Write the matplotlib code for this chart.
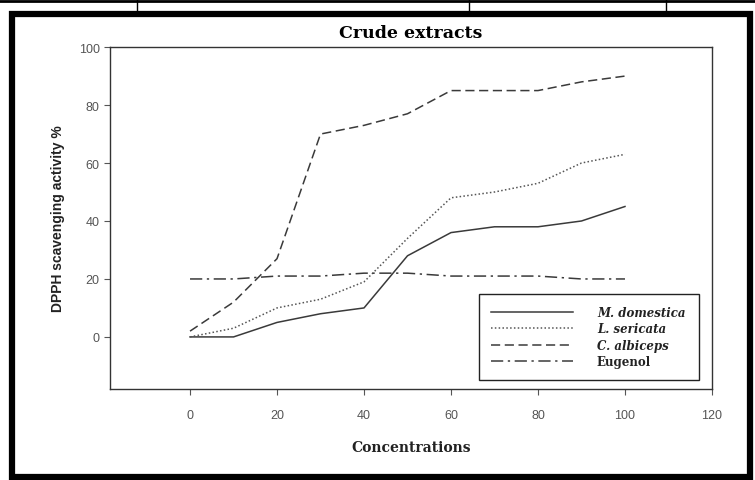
import matplotlib
matplotlib.use("Agg")
import matplotlib.pyplot as plt
from matplotlib.patches import Rectangle
from matplotlib.lines import Line2D

concentrations = [0, 10, 20, 30, 40, 50, 60, 70, 80, 90, 100]
m_domestica = [0, 0, 5, 8, 10, 28, 36, 38, 38, 40, 45]
l_sericata = [0, 3, 10, 13, 19, 34, 48, 50, 53, 60, 63]
c_albiceps = [2, 12, 27, 70, 73, 77, 85, 85, 85, 88, 90]
eugenol = [20, 20, 21, 21, 22, 22, 21, 21, 21, 20, 20]

series_labels = ["M. domestica", "L. sericata", "C. albiceps", "Eugenol"]
x_ticks = [0, 20, 40, 60, 80, 100, 120]
y_ticks = [0, 20, 40, 60, 80, 100]

line_color = "#3a3a3a"
serif = ["DejaVu Serif"]
sans = ["Liberation Sans", "DejaVu Sans"]
styles = [
    ("-", line_color),
    ((0, (1, 1.5)), "#555555"),
    ((0, (6, 3)), line_color),
    ((0, (8, 3, 1.5, 3)), line_color),
]
series = [m_domestica, l_sericata, c_albiceps, eugenol]

fig = plt.figure(figsize=(7.55, 4.81), dpi=100)
ax = fig.add_axes([0.1457, 0.189, 0.7973, 0.711])

handles = []
for values, (ls, col) in zip(series, styles):
    ax.plot(concentrations, values, color=col, lw=1.1, ls=ls)
    handles.append(Line2D([], [], color=col, lw=1.1, ls=ls))

ax.set_xlim(-18.4, 120)
ax.set_ylim(-18, 100)
ax.set_xticks(x_ticks)
ax.set_yticks(y_ticks)
ax.tick_params(direction="out", length=4, width=0.8, color="#555555",
               labelcolor="#555555", labelsize=9)
for lab in ax.get_xticklabels() + ax.get_yticklabels():
    lab.set_family(sans)
ax.tick_params(axis="x", pad=10)
for spine in ax.spines.values():
    spine.set_color("#333333")
    spine.set_linewidth(1.0)

ax.set_title("Crude extracts", family=serif, fontweight="bold", fontsize=12.5, pad=7)
ax.set_xlabel("Concentrations", family=serif, fontweight="bold", fontsize=10,
              labelpad=14, color="#222222")
ax.set_ylabel("DPPH scavenging activity %", family=sans, fontweight="bold",
              fontsize=10, labelpad=10, color="#222222")

leg = ax.legend(handles, series_labels, loc="lower left",
                bbox_to_anchor=(0.603, 0.009, 0.385, 0.242), mode="expand",
                handlelength=7.0, handletextpad=2.0, labelspacing=0.3,
                borderpad=1.0, fancybox=False, edgecolor="#222222",
                framealpha=1, shadow=False,
                prop={"family": serif, "weight": "bold", "size": 8.5})
leg.get_frame().set_linewidth(1.0)
for i, t in enumerate(leg.get_texts()):
    t.set_color("#222222")
    if i < 3:
        t.set_style("italic")

# surrounding page frame
fig.patches.append(Rectangle((12 / 755, 3 / 481), 738 / 755, 463 / 481,
                             transform=fig.transFigure, fill=False,
                             edgecolor="black", linewidth=4.5))
fig.add_artist(Line2D([0, 1], [1 - 1.5 / 481, 1 - 1.5 / 481],
                      transform=fig.transFigure, color="black", lw=2))
for xv in [137, 469, 666]:
    fig.add_artist(Line2D([xv / 755, xv / 755], [1, 1 - 13 / 481],
                          transform=fig.transFigure, color="black", lw=1))

fig.savefig("out.png", dpi=100)
